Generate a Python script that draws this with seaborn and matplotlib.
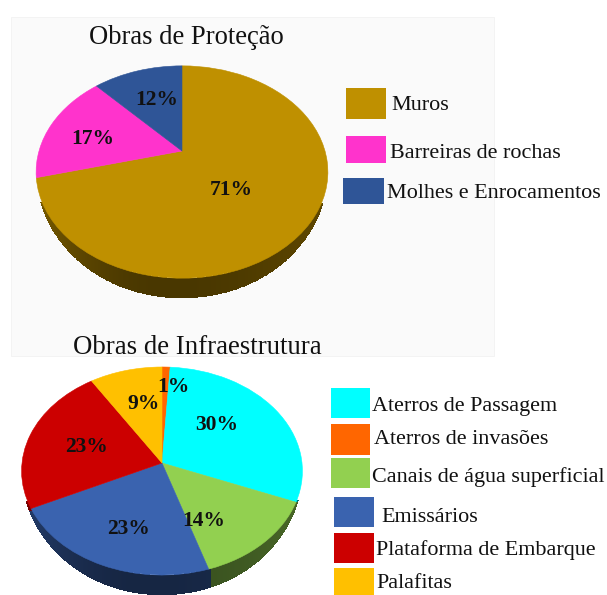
import numpy as np
import seaborn as sns
import matplotlib.pyplot as plt
from matplotlib.colors import to_rgb
from matplotlib.patches import Rectangle
from matplotlib.transforms import Transform

# Dados
protecao_cats = ['Muros', 'Barreiras de rochas', 'Molhes e Enrocamentos']
protecao_vals = [71, 17, 12]
protecao_cores = ['#BF9000', '#FF33CC', '#2F5597']

infra_cats = ['Aterros de Passagem', 'Aterros de invasões', 'Canais de água superficial',
              'Emissários', 'Plataforma de Embarque', 'Palafitas']
infra_vals = [30, 1, 14, 23, 23, 9]
infra_cores = ['#00FFFF', '#FF6600', '#92D050', '#3A63AF', '#CC0000', '#FFC000']
infra_ordem_pizza = [1, 0, 2, 3, 4, 5]  # a fatia de 1% vem primeiro no sentido horario


class Perspectiva(Transform):
    """Projeta o circulo unitario da pizza num disco visto em perspectiva (pixels)."""
    input_dims = 2
    output_dims = 2
    is_affine = False

    def __init__(self, cx, cy, a, b, k):
        super().__init__()
        self.cx, self.cy, self.a, self.b, self.k = cx, cy, a, b, k

    def transform_non_affine(self, values):
        values = np.asarray(values, dtype=float)
        u, v = values[:, 0], -values[:, 1]
        w = 1 - self.k * v
        return np.column_stack([self.cx + self.a * u / w, self.cy + self.b * v / w])


def pizza_3d(ax, vals, cores, persp, prof, v0):
    wedges, _ = ax.pie(vals, colors=sns.color_palette(cores), startangle=90, counterclock=False,
                       frame=True, wedgeprops={'linewidth': 0.4, 'zorder': 3})
    xc = persp.cx - 15
    for w, cor in zip(wedges, cores):
        w.set_edgecolor(cor)
        w.set_transform(persp + ax.transData)
        # parede lateral: afina ate sumir nos lados, mais escura no meio
        th = np.radians(np.linspace(w.theta1, w.theta2, 900))
        frente = -np.sin(th)
        pts = persp.transform_non_affine(np.column_stack([np.cos(th), np.sin(th)]))
        pts, frente = pts[frente > v0], frente[frente > v0]
        if len(pts) == 0:
            continue
        h = prof * ((frente - v0) / (1 - v0)) ** 0.9
        dx = (pts[:, 0] - xc) / persp.a
        fator = 0.38 + np.where(dx < 0, 0.30, 0.10) * np.clip(np.abs(dx), 0, 1) ** 2
        base = np.array(to_rgb(cor))
        ax.vlines(pts[:, 0], pts[:, 1], pts[:, 1] + h, colors=np.outer(fator, base),
                  linewidth=1.5, antialiased=False, zorder=2)


def rotulos(ax, vals, posicoes, cor='#111111'):
    for v, (x, y) in zip(vals, posicoes):
        ax.text(x, y + 2, f'{v}%', fontsize=15.5, fontweight='bold', color=cor,
                ha='center', va='center', zorder=5)


def legenda(ax, cats, cores, caixas, textos):
    for cat, cor, (x0, x1, y0, y1), (tx, ty) in zip(cats, cores, caixas, textos):
        ax.add_patch(Rectangle((x0, y0), x1 - x0, y1 - y0, facecolor=cor, edgecolor='none', zorder=3))
        ax.text(tx, ty + 2, cat, fontsize=15.9, ha='left', va='center', color='#111111', zorder=5)


sns.set_theme(style='white')
plt.rcParams['font.family'] = ['Liberation Serif', 'DejaVu Serif']

fig = plt.figure(figsize=(6.07, 5.95), dpi=100)
ax = fig.add_axes([0, 0, 1, 1])

# fundo claro atras do primeiro grafico
ax.add_patch(Rectangle((11, 17), 483, 339, facecolor='#FAFAFA', edgecolor='#F2F2F2', linewidth=0.6, zorder=0))

# --- Obras de Protecao ---
p1 = Perspectiva(182, 151, 143, 102, 0.198)
pizza_3d(ax, protecao_vals, protecao_cores, p1, 20, 0.45)
rotulos(ax, protecao_vals, [(231, 188), (93, 137), (157, 98)])
legenda(ax, protecao_cats, protecao_cores,
        [(346, 386, 88, 119), (346, 386, 136, 163), (343, 384, 178, 204)],
        [(391, 104), (390, 152), (387, 192)])
ax.text(186, 38, 'Obras de Proteção', fontsize=19.2, ha='center', va='center', color='#111111', zorder=5)

# --- Obras de Infraestrutura ---
vals_pizza = [infra_vals[i] for i in infra_ordem_pizza]
cores_pizza = [infra_cores[i] for i in infra_ordem_pizza]
p2 = Perspectiva(162, 463, 140, 103.4, 0.077)
pizza_3d(ax, vals_pizza, cores_pizza, p2, 20, 0.35)
rotulos(ax, infra_vals, [(217, 423), (173, 385), (204, 519), (128, 527), (86, 445), (144, 402)])
legenda(ax, infra_cats, infra_cores,
        [(331, 370, 388, 418), (331, 370, 424, 455), (331, 370, 458, 488),
         (334, 374, 497, 527), (334, 374, 533, 563), (334, 374, 568, 595)],
        [(372, 405), (374, 437), (372, 475), (381, 515), (375.5, 548), (376, 581)])
ax.text(197.5, 347, 'Obras de Infraestrutura', fontsize=19.3, ha='center', va='center', color='#111111', zorder=5)

ax.set_xlim(0, 607)
ax.set_ylim(595, 0)
ax.set_aspect('auto')
ax.axis('off')

fig.savefig('out.png', dpi=100, facecolor='white')
